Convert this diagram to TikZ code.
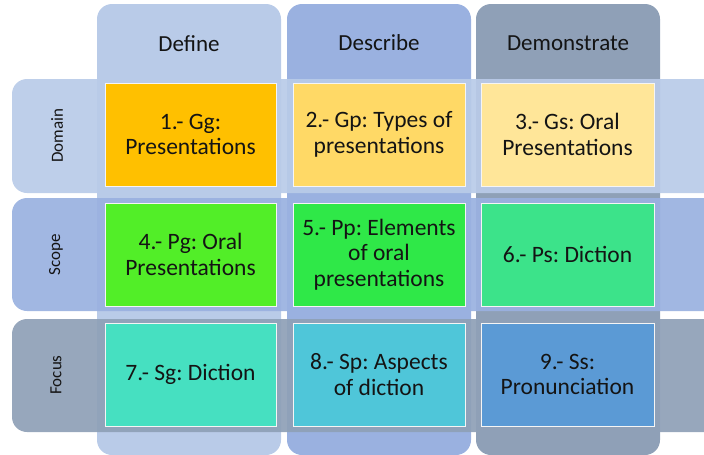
\documentclass[tikz,border=0pt]{standalone}
\usepackage{fontspec}
\setmainfont{Carlito}
\frenchspacing
\definecolor{bandA}{HTML}{B9CBE8}
\definecolor{bandB}{HTML}{9AB1E0}
\definecolor{bandC}{HTML}{8FA0B7}
\definecolor{cA}{HTML}{FFC000}
\definecolor{cB}{HTML}{FFD966}
\definecolor{cC}{HTML}{FFE699}
\definecolor{cD}{HTML}{52EE28}
\definecolor{cE}{HTML}{2FE848}
\definecolor{cF}{HTML}{3CE38A}
\definecolor{cG}{HTML}{46E0C1}
\definecolor{cH}{HTML}{4FC6D9}
\definecolor{cI}{HTML}{5B9AD5}
\begin{document}
\begin{tikzpicture}[x=1pt,y=-1pt,
  band/.style={rounded corners=15pt},
  rowband/.style={band, opacity=0.93},
  header/.style={font=\fontsize{23}{26}\selectfont, text=black!92},
  rowlabel/.style={font=\fontsize{17}{20}\selectfont, rotate=90, text=black!92},
  cell/.style={draw=white!92!gray, line width=1pt, minimum height=103pt,
    inner sep=0pt, align=center, text=black!92,
    font=\fontsize{23.5}{25.5}\selectfont},
]
\clip (0,0) rectangle (704,455);
\useasboundingbox (0,0) rectangle (704,455);

% column bands
\fill[band, bandA] (97,4) rectangle (281,455);
\fill[band, bandB] (287,4) rectangle (471,455);
\fill[band, bandC] (476,4) rectangle (660,455);

% row bands (running off the right edge)
\fill[rowband, bandA] (12,79) rectangle (740,193);
\fill[rowband, bandB] (12,198) rectangle (740,311);
\fill[rowband, bandC] (12,319) rectangle (740,432);

% column headers
\node[header] (hdef) at (189,44) {Define};
\node[header] (hdes) at (379,43) {Describe};
\node[header] (hdem) at (568,43) {Demonstrate};

% row labels
\node[rowlabel] (ldom) at (57,136) {Domain};
\node[rowlabel] (lsco) at (56,255) {Scope};
\node[rowlabel] (lfoc) at (56,375) {Focus};

% grid cells
\node[cell, fill=cA, minimum width=171pt] (g1) at (190.5,134.5) {1.- Gg:\\Presentations};
\node[cell, fill=cB, minimum width=172pt] (g2) at (379,134.5) {2.- Gp: Types of\\presentations};
\node[cell, fill=cC, minimum width=173pt] (g3) at (567.5,134.5) {3.- Gs: Oral\\Presentations};
\node[cell, fill=cD, minimum width=171pt] (g4) at (190.5,254.5) {4.- Pg: Oral\\Presentations};
\node[cell, fill=cE, minimum width=172pt] (g5) at (379,254.5) {5.- Pp: Elements\\of oral\\presentations};
\node[cell, fill=cF, minimum width=173pt] (g6) at (567.5,254.5) {6.- Ps: Diction};
\node[cell, fill=cG, minimum width=171pt] (g7) at (190.5,374.5) {7.- Sg: Diction};
\node[cell, fill=cH, minimum width=172pt] (g8) at (379,374.5) {8.- Sp: Aspects\\of diction};
\node[cell, fill=cI, minimum width=173pt] (g9) at (567.5,374.5) {9.- Ss:\\Pronunciation};
\end{tikzpicture}
\end{document}
